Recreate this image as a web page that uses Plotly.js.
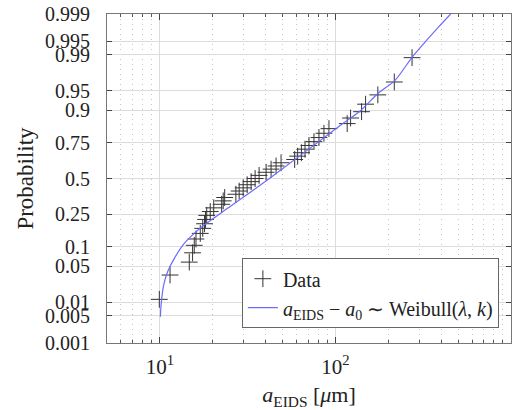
<!DOCTYPE html>
<html>
<head>
<meta charset="utf-8">
<script src="https://cdn.plot.ly/plotly-3.0.1.min.js"></script>
<style>html,body{margin:0;padding:0;background:#fff;}#chart{width:520px;height:410px;}</style>
</head>
<body>
<div id="chart"></div>
<script>
// Data points: crack size a_EIDS [um] and empirical probability
const dataX = [9.93, 11.43, 14.71, 15.36, 15.70, 16.06, 16.99, 17.55, 17.97, 18.21, 18.49, 19.36, 20.27,
  22.50, 22.95, 23.40, 27.10, 28.29, 29.82, 31.42, 33.11, 34.88, 36.75, 40.29, 43.01, 45.91, 49.01,
  58.60, 60.95, 64.00, 67.10, 70.70, 75.47, 80.58, 86.02, 91.86, 116.7, 122.0, 140.9, 148.5, 174.4, 216.4, 273.2];
const dataP = [0.0116, 0.0349, 0.0581, 0.0814, 0.1047, 0.1279, 0.1512, 0.1744, 0.1977, 0.2209, 0.2442,
  0.2674, 0.2907, 0.3140, 0.3372, 0.3605, 0.3837, 0.4070, 0.4302, 0.4535, 0.4767, 0.5000, 0.5233,
  0.5465, 0.5698, 0.5930, 0.6163, 0.6395, 0.6628, 0.6860, 0.7093, 0.7326, 0.7558, 0.7791, 0.8023,
  0.8256, 0.8488, 0.8721, 0.8953, 0.9186, 0.9419, 0.9651, 0.9884];

// Fitted Weibull curve
const fitX = [10.07, 10.16, 10.51, 11.07, 12.09, 13.78, 15.70, 17.89, 24.28, 40.98, 110.7, 139.0, 175.1, 217.8, 273.2, 326.6, 387.3, 453.0];
const fitP = [0.0047, 0.0087, 0.0226, 0.0399, 0.0668, 0.1116, 0.1515, 0.191, 0.2877, 0.4888, 0.850, 0.8987, 0.9454, 0.967, 0.9886, 0.995, 0.9978, 0.999];

// Axis ticks
const yTickP = [0.001, 0.005, 0.01, 0.05, 0.1, 0.25, 0.5, 0.75, 0.9, 0.95, 0.99, 0.995, 0.999];
const yTickText = ['0.001', '0.005', '0.01', '0.05', '0.1', '0.25', '0.5', '0.75', '0.9', '0.95', '0.99', '0.995', '0.999'];
const xTickVals = [10, 100, 1000];
const xTickText = ['10<sup>1</sup>', '10<sup>2</sup>', '10<sup>3</sup>'];
const xMinorVals = [5, 6, 7, 8, 9, 20, 30, 40, 50, 60, 70, 80, 90, 200, 300, 400, 500, 600, 700, 800, 900];

// inverse normal CDF (probability scale)
function probit(p) {
  const a = [-3.969683028665376e+01, 2.209460984245205e+02, -2.759285104469687e+02, 1.383577518672690e+02, -3.066479806614716e+01, 2.506628277459239e+00];
  const b = [-5.447609879822406e+01, 1.615858368580409e+02, -1.556989798598866e+02, 6.680131188771972e+01, -1.328068155288572e+01];
  const c = [-7.784894002430293e-03, -3.223964580411365e-01, -2.400758277161838e+00, -2.549732539343734e+00, 4.374664141464968e+00, 2.938163982698783e+00];
  const d = [7.784695709041462e-03, 3.224671290700398e-01, 2.445134137142996e+00, 3.754408661907416e+00];
  const pl = 0.02425, ph = 1 - pl;
  let q, r;
  if (p < pl) {
    q = Math.sqrt(-2 * Math.log(p));
    return (((((c[0]*q+c[1])*q+c[2])*q+c[3])*q+c[4])*q+c[5]) / ((((d[0]*q+d[1])*q+d[2])*q+d[3])*q+1);
  }
  if (p <= ph) {
    q = p - 0.5; r = q*q;
    return (((((a[0]*r+a[1])*r+a[2])*r+a[3])*r+a[4])*r+a[5])*q / (((((b[0]*r+b[1])*r+b[2])*r+b[3])*r+b[4])*r+1);
  }
  q = Math.sqrt(-2 * Math.log(1 - p));
  return -(((((c[0]*q+c[1])*q+c[2])*q+c[3])*q+c[4])*q+c[5]) / ((((d[0]*q+d[1])*q+d[2])*q+d[3])*q+1);
}

const serif = 'Liberation Serif, Times New Roman, serif';

const traces = [
  {
    x: dataX, y: dataP.map(probit), type: 'scatter', mode: 'markers', name: 'Data',
    marker: {symbol: 'cross-thin-open', size: 12, color: '#333', line: {color: '#333', width: 1}},
    hoverinfo: 'skip'
  },
  {
    x: fitX, y: fitP.map(probit), type: 'scatter', mode: 'lines',
    name: '<i>a</i><sub>EIDS</sub> − <i>a</i><sub>0</sub> ∼ Weibull(<i>λ</i>, <i>k</i>)',
    line: {color: '#6b6bff', width: 1.2, shape: 'spline', smoothing: 0.7},
    hoverinfo: 'skip'
  }
];

const layout = {
  width: 520, height: 410,
  margin: {l: 107, r: 9, t: 14, b: 67},
  paper_bgcolor: '#fff', plot_bgcolor: '#fff',
  font: {family: serif, size: 20, color: '#222'},
  showlegend: true,
  legend: {
    x: 0.970, y: 0.045, xanchor: 'right', yanchor: 'bottom',
    bgcolor: '#fff', bordercolor: '#666', borderwidth: 1,
    font: {family: serif, size: 20, color: '#222'},
    tracegroupgap: 0, itemwidth: 30
  },
  xaxis: {
    type: 'log', range: [Math.log10(5), 3],
    tickmode: 'array', tickvals: xTickVals, ticktext: xTickText,
    ticks: 'inside', ticklen: 6, tickwidth: 1, tickcolor: '#444',
    showline: true, linecolor: '#777', linewidth: 1, mirror: 'ticks',
    showgrid: true, gridcolor: '#dcdcdc', gridwidth: 1,
    zeroline: false,
    ticklabelstandoff: 5,
    tickfont: {family: serif, size: 21, color: '#222'},
    minor: {
      tickmode: 'array', tickvals: xMinorVals,
      ticks: 'inside', ticklen: 3, tickcolor: '#555',
      showgrid: true, gridcolor: '#c4c4c4', griddash: '1px,4px', gridwidth: 1
    },
    title: {
      text: '<i>a</i><sub>EIDS</sub> [<i>μ</i>m]',
      font: {family: serif, size: 22, color: '#222'},
      standoff: 16
    },
    automargin: false
  },
  yaxis: {
    range: [probit(0.001), probit(0.999)],
    tickmode: 'array', tickvals: yTickP.map(probit), ticktext: yTickText,
    ticks: 'inside', ticklen: 5, tickwidth: 1, tickcolor: '#444',
    showline: true, linecolor: '#777', linewidth: 1, mirror: 'ticks',
    showgrid: true, gridcolor: '#dcdcdc', gridwidth: 1,
    zeroline: false,
    ticklabelstandoff: 12,
    tickfont: {family: serif, size: 20, color: '#222'},
    title: {
      text: 'Probability',
      font: {family: serif, size: 23, color: '#222'},
      standoff: 4
    },
    automargin: false
  }
};

Plotly.newPlot('chart', traces, layout, {staticPlot: true, displayModeBar: false});
</script>
</body>
</html>
